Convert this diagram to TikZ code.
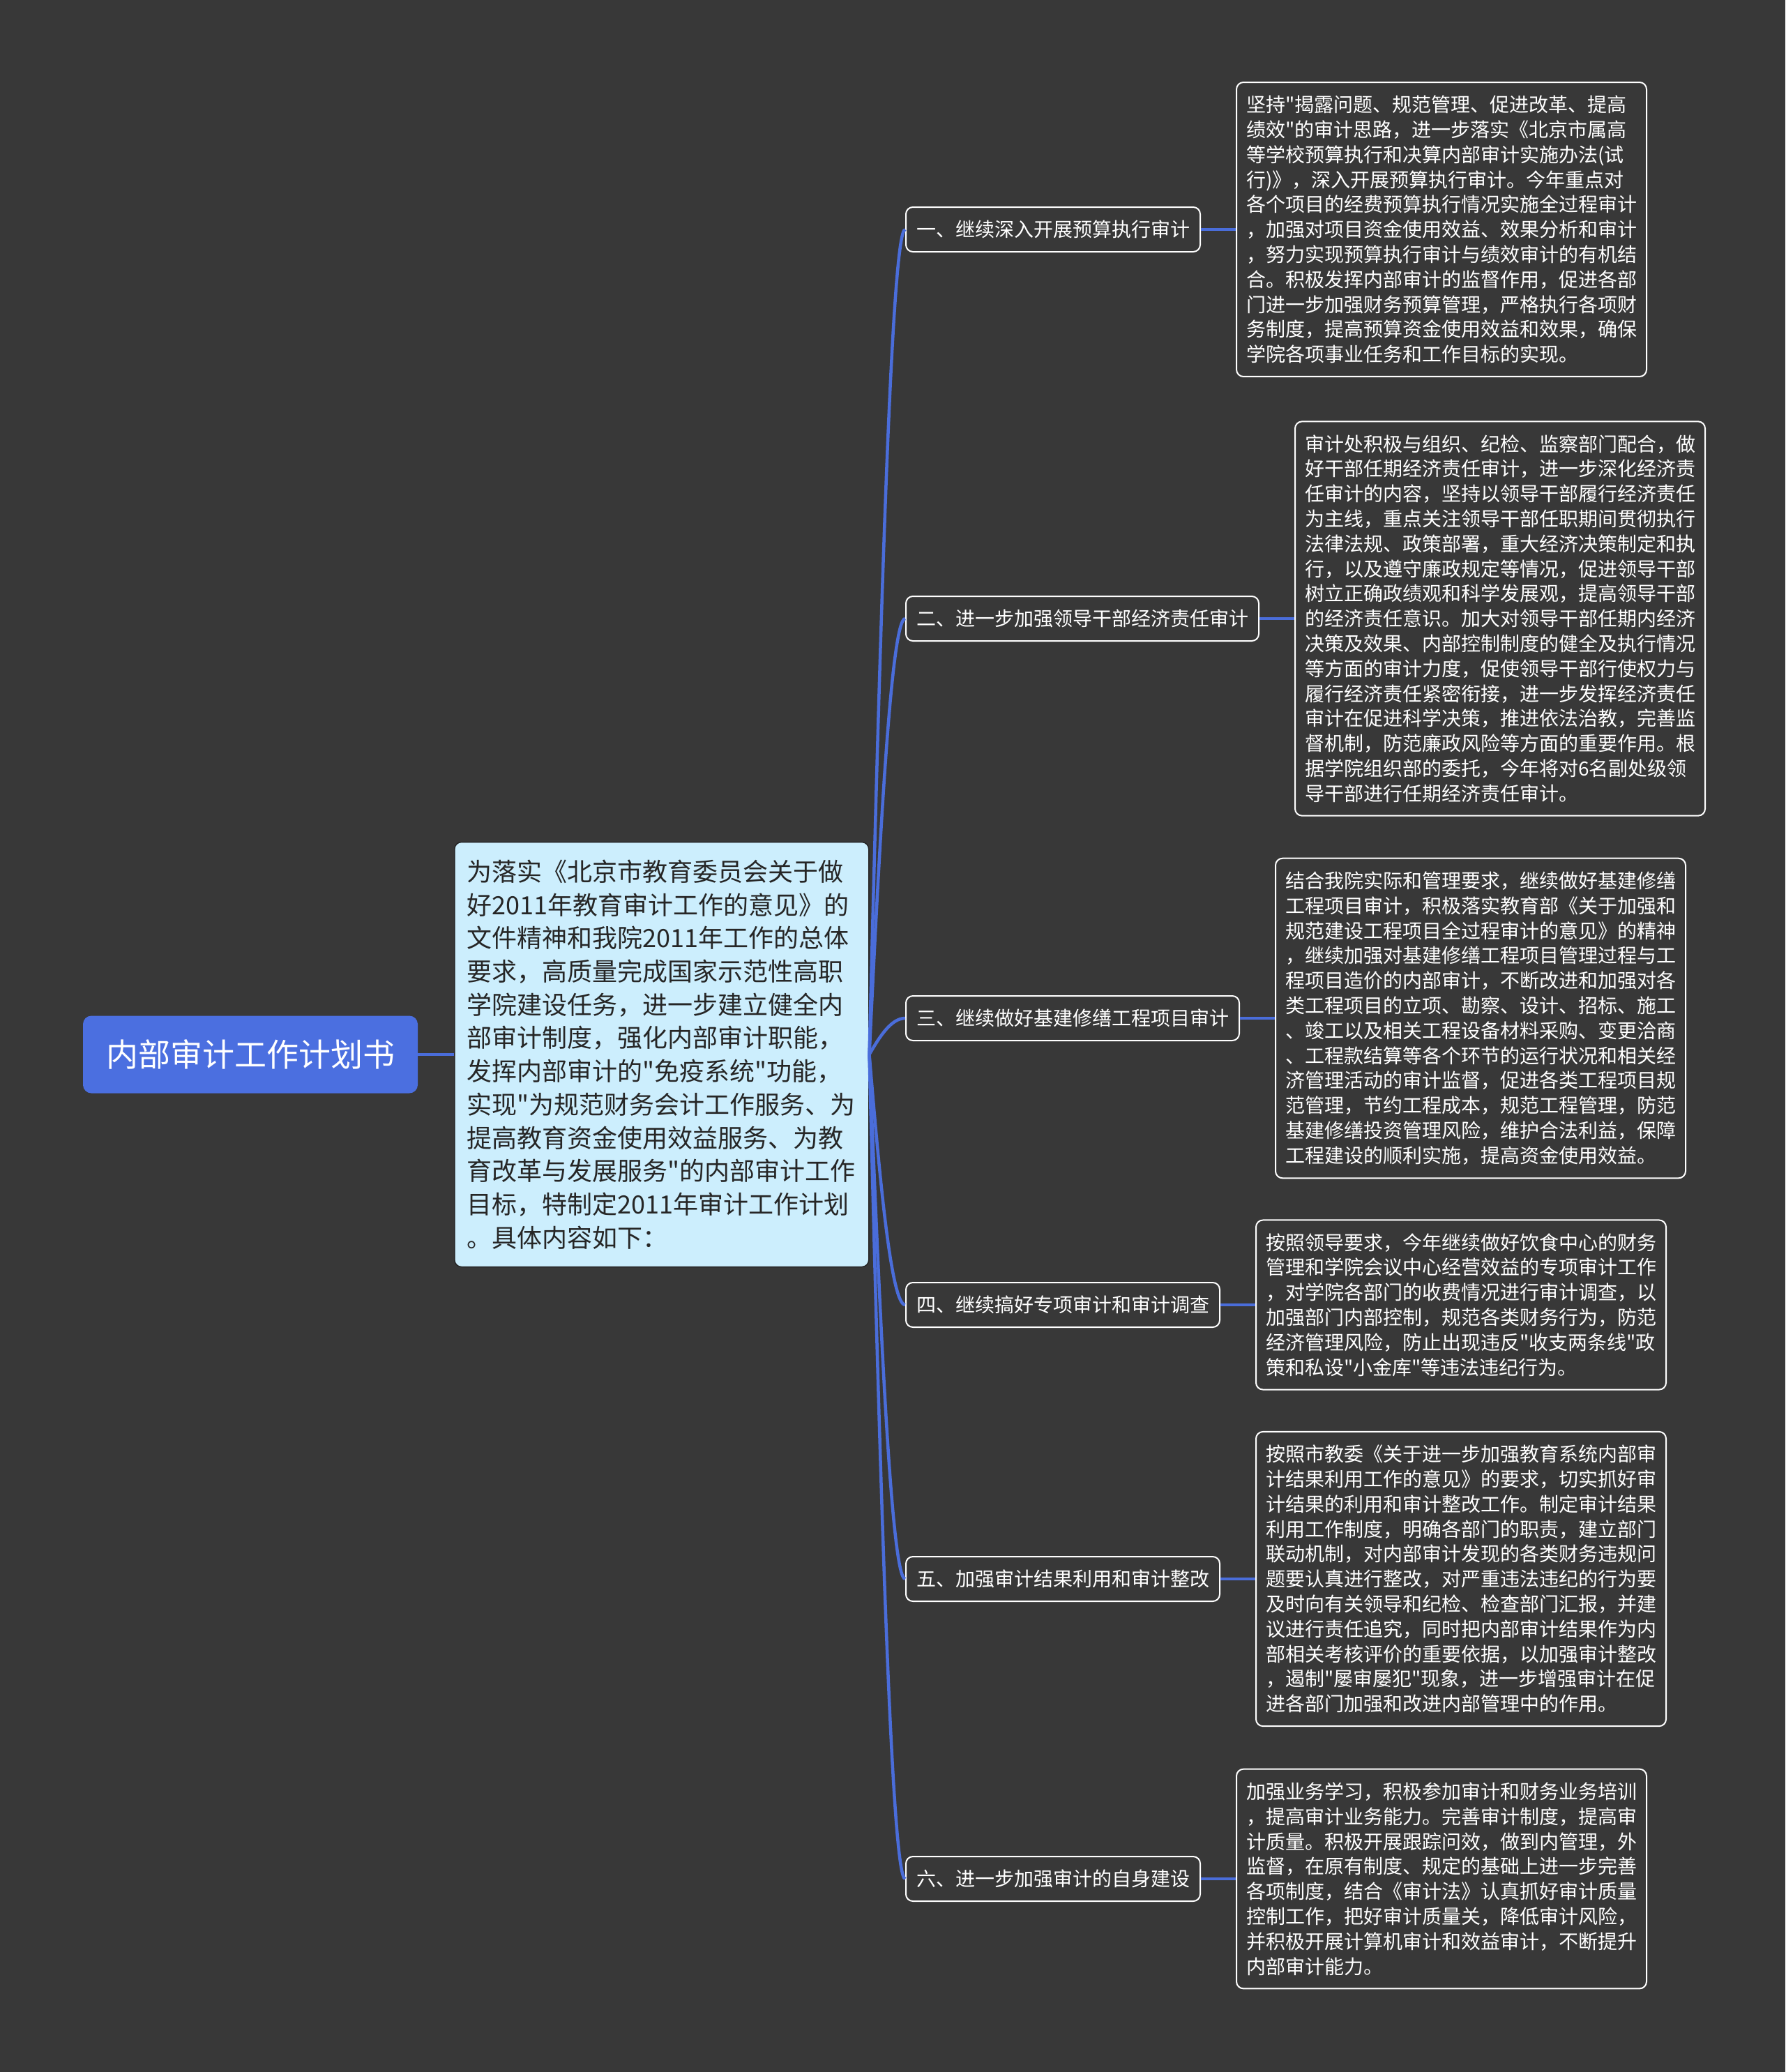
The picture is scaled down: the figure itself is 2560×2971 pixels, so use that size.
\documentclass[tikz,border=0pt]{standalone}
\usepackage{fontspec}
\setmainfont{Noto Sans CJK SC}[Ligatures=TeXOff]
\usetikzlibrary{positioning,calc}
\definecolor{bg}{HTML}{383838}
\definecolor{rootblue}{HTML}{4B6FE0}
\definecolor{linkblue}{HTML}{4A6DDA}
\definecolor{centerfill}{HTML}{CCEEFD}
\definecolor{centertext}{HTML}{262626}
\begin{document}
\begin{tikzpicture}[x=1pt,y=-1pt,
  rootbox/.style={fill=rootblue, rounded corners=12pt, text=white,
    font=\fontsize{46}{55}\selectfont, minimum width=480pt, minimum height=111pt, inner sep=0pt},
  centerbox/.style={fill=centerfill, draw=black!85, line width=1.5pt, rounded corners=10pt,
    text=centertext, font=\fontsize{36}{47.7}\selectfont, text width=558pt, align=left,
    inner xsep=18pt, inner ysep=0pt, minimum height=609pt, anchor=west},
  branchbox/.style={draw=white, line width=2pt, rounded corners=10pt, fill=bg, text=white,
    font=\fontsize{28}{34}\selectfont, inner xsep=15pt, inner ysep=0pt, minimum height=64pt, anchor=west},
  detailbox/.style={draw=white, line width=2pt, rounded corners=10pt, fill=bg, text=white,
    font=\fontsize{28}{35.8}\selectfont, text width=560pt, align=left,
    inner xsep=14pt, inner ysep=19pt, anchor=west, right=50pt of #1},
  link/.style={draw=linkblue, line width=4.5pt}
]
\fill[bg] (0,0) rectangle (2560,2971);
\useasboundingbox (0,0) rectangle (2560,2971);

\node[rootbox] (root) at (359,1512) {内部审计工作计划书};

\node[centerbox] (c) at (651,1512) {为落实《北京市教育委员会关于做\\
好2011年教育审计工作的意见》的\\
文件精神和我院2011年工作的总体\\
要求，高质量完成国家示范性高职\\
学院建设任务，进一步建立健全内\\
部审计制度，强化内部审计职能，\\
发挥内部审计的"免疫系统"功能，\\
实现"为规范财务会计工作服务、为\\
提高教育资金使用效益服务、为教\\
育改革与发展服务"的内部审计工作\\
目标，特制定2011年审计工作计划\\
。具体内容如下：};

\node[branchbox] (b1) at (1298,329) {一、继续深入开展预算执行审计};
\node[branchbox] (b2) at (1298,887) {二、进一步加强领导干部经济责任审计};
\node[branchbox] (b3) at (1298,1460) {三、继续做好基建修缮工程项目审计};
\node[branchbox] (b4) at (1298,1871) {四、继续搞好专项审计和审计调查};
\node[branchbox] (b5) at (1298,2264) {五、加强审计结果利用和审计整改};
\node[branchbox] (b6) at (1298,2694) {六、进一步加强审计的自身建设};

\node[detailbox=b1] (d1) {坚持"揭露问题、规范管理、促进改革、提高\\
绩效"的审计思路，进一步落实《北京市属高\\
等学校预算执行和决算内部审计实施办法(试\\
行)》，深入开展预算执行审计。今年重点对\\
各个项目的经费预算执行情况实施全过程审计\\
，加强对项目资金使用效益、效果分析和审计\\
，努力实现预算执行审计与绩效审计的有机结\\
合。积极发挥内部审计的监督作用，促进各部\\
门进一步加强财务预算管理，严格执行各项财\\
务制度，提高预算资金使用效益和效果，确保\\
学院各项事业任务和工作目标的实现。};

\node[detailbox=b2] (d2) {审计处积极与组织、纪检、监察部门配合，做\\
好干部任期经济责任审计，进一步深化经济责\\
任审计的内容，坚持以领导干部履行经济责任\\
为主线，重点关注领导干部任职期间贯彻执行\\
法律法规、政策部署，重大经济决策制定和执\\
行，以及遵守廉政规定等情况，促进领导干部\\
树立正确政绩观和科学发展观，提高领导干部\\
的经济责任意识。加大对领导干部任期内经济\\
决策及效果、内部控制制度的健全及执行情况\\
等方面的审计力度，促使领导干部行使权力与\\
履行经济责任紧密衔接，进一步发挥经济责任\\
审计在促进科学决策，推进依法治教，完善监\\
督机制，防范廉政风险等方面的重要作用。根\\
据学院组织部的委托，今年将对6名副处级领\\
导干部进行任期经济责任审计。};

\node[detailbox=b3] (d3) {结合我院实际和管理要求，继续做好基建修缮\\
工程项目审计，积极落实教育部《关于加强和\\
规范建设工程项目全过程审计的意见》的精神\\
，继续加强对基建修缮工程项目管理过程与工\\
程项目造价的内部审计，不断改进和加强对各\\
类工程项目的立项、勘察、设计、招标、施工\\
、竣工以及相关工程设备材料采购、变更洽商\\
、工程款结算等各个环节的运行状况和相关经\\
济管理活动的审计监督，促进各类工程项目规\\
范管理，节约工程成本，规范工程管理，防范\\
基建修缮投资管理风险，维护合法利益，保障\\
工程建设的顺利实施，提高资金使用效益。};

\node[detailbox=b4] (d4) {按照领导要求，今年继续做好饮食中心的财务\\
管理和学院会议中心经营效益的专项审计工作\\
，对学院各部门的收费情况进行审计调查，以\\
加强部门内部控制，规范各类财务行为，防范\\
经济管理风险，防止出现违反"收支两条线"政\\
策和私设"小金库"等违法违纪行为。};

\node[detailbox=b5] (d5) {按照市教委《关于进一步加强教育系统内部审\\
计结果利用工作的意见》的要求，切实抓好审\\
计结果的利用和审计整改工作。制定审计结果\\
利用工作制度，明确各部门的职责，建立部门\\
联动机制，对内部审计发现的各类财务违规问\\
题要认真进行整改，对严重违法违纪的行为要\\
及时向有关领导和纪检、检查部门汇报，并建\\
议进行责任追究，同时把内部审计结果作为内\\
部相关考核评价的重要依据，以加强审计整改\\
，遏制"屡审屡犯"现象，进一步增强审计在促\\
进各部门加强和改进内部管理中的作用。};

\node[detailbox=b6] (d6) {加强业务学习，积极参加审计和财务业务培训\\
，提高审计业务能力。完善审计制度，提高审\\
计质量。积极开展跟踪问效，做到内管理，外\\
监督，在原有制度、规定的基础上进一步完善\\
各项制度，结合《审计法》认真抓好审计质量\\
控制工作，把好审计质量关，降低审计风险，\\
并积极开展计算机审计和效益审计，不断提升\\
内部审计能力。};

\draw[link] (root.east) -- (c.west);
\foreach \i in {1,...,6}{
  \draw[link] let \p1=(c.east), \p2=(b\i.west) in
    (\p1) .. controls ({\x1+15pt},{0.5*\y1+0.5*\y2}) and ({\x2-20pt},\y2) .. (\p2);
  \draw[link] (b\i.east) -- (d\i.west);
}
\end{tikzpicture}
\end{document}
